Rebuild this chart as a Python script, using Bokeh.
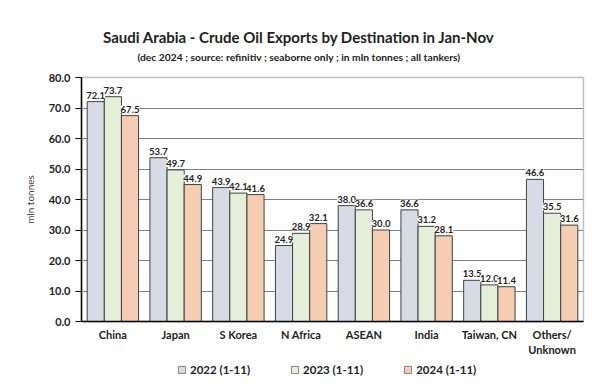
from bokeh.plotting import figure
from bokeh.models import (ColumnDataSource, FactorRange, Legend, LegendItem, Label,
                          LabelSet, FixedTicker, NumeralTickFormatter)
from bokeh.core.properties import value
from bokeh.transform import dodge
from bokeh.layouts import column
from bokeh.embed import file_html
from bokeh.resources import INLINE

categories = ["China", "Japan", "S Korea", "N Africa", "ASEAN", "India", "Taiwan, CN", "Others/\nUnknown"]
series_names = ["2022 (1-11)", "2023 (1-11)", "2024 (1-11)"]
v2022 = [72.1, 53.7, 43.9, 24.9, 38.0, 36.6, 13.5, 46.6]
v2023 = [73.7, 49.7, 42.1, 28.9, 36.6, 31.2, 12.0, 35.5]
v2024 = [67.5, 44.9, 41.6, 32.1, 30.0, 28.1, 11.4, 31.6]
y_ticks = [0, 10, 20, 30, 40, 50, 60, 70, 80]
title_text = "Saudi Arabia - Crude Oil Exports by Destination in Jan-Nov"
subtitle_text = "(dec 2024 ; source: refinitiv ; seaborne only ; in mln tonnes ; all tankers)"

colors = ["#d6dbe6", "#e4efda", "#f4cdb2"]
FONT = "Lato"
W = 593

# ---- title strip ----
ft = figure(width=W, height=64, x_range=(0, W), y_range=(0, 64), min_border=0,
            x_axis_location=None, y_axis_location=None, toolbar_location=None,
            output_backend="svg", outline_line_color=None)
ft.grid.visible = False
ft.add_layout(Label(x=257, y=28, text=title_text, text_align="center", text_baseline="middle",
                    text_font=FONT, text_font_style="bold", text_font_size="15px",
                    text_color="#222222"))
ft.add_layout(Label(x=257, y=8, text=subtitle_text, text_align="center", text_baseline="middle",
                    text_font=FONT, text_font_style="bold", text_font_size="10.3px",
                    text_color="#222222"))

# ---- main chart ----
data = dict(cat=categories, v2022=v2022, v2023=v2023, v2024=v2024,
            l2022=[f"{v:.1f}" for v in v2022],
            l2023=[f"{v:.1f}" for v in v2023],
            l2024=[f"{v:.1f}" for v in v2024])
src = ColumnDataSource(data)

p = figure(x_range=FactorRange(*categories, range_padding=0), y_range=(0, 80),
           frame_width=502, frame_height=244, output_backend="svg", toolbar_location=None,
           min_border_left=81, min_border_right=10, min_border_top=13, min_border_bottom=34)

bw = 0.273
keys = ["v2022", "v2023", "v2024"]
offs = [-bw, 0.0, bw]
for k, off, c in zip(keys, offs, colors):
    p.vbar(x=dodge("cat", off, range=p.x_range), top=k, width=bw, source=src,
           fill_color=c, line_color="#404040", line_width=1)

for k, off in zip(["l2022", "l2023", "l2024"], offs):
    ls = LabelSet(x=dodge("cat", off, range=p.x_range), y=k.replace("l", "v"), text=k,
                  source=src, text_align="center", text_baseline="bottom", y_offset=3,
                  text_font=value(FONT), text_font_style="bold", text_font_size="9.5px",
                  text_color="#222222", background_fill_color="white")
    p.add_layout(ls)

p.yaxis.ticker = FixedTicker(ticks=y_ticks)
p.yaxis.formatter = NumeralTickFormatter(format="0.0")
p.yaxis.axis_line_color = "black"
p.yaxis.axis_line_width = 1.5
p.yaxis.major_tick_out = 6
p.yaxis.major_tick_in = 0
p.yaxis.minor_tick_line_color = None
p.yaxis.major_label_text_font = FONT
p.yaxis.major_label_text_font_style = "bold"
p.yaxis.major_label_text_font_size = "11px"
p.yaxis.major_label_text_color = "#222222"
p.yaxis.axis_label = "mln tonnes"
p.yaxis.axis_label_text_font = FONT
p.yaxis.axis_label_text_font_style = "normal"
p.yaxis.axis_label_text_font_size = "10px"
p.yaxis.axis_label_standoff = 10

p.xaxis.axis_line_color = "black"
p.xaxis.axis_line_width = 1.5
p.xaxis.major_tick_line_color = None
p.xaxis.minor_tick_line_color = None
p.xaxis.major_label_text_font = FONT
p.xaxis.major_label_text_font_style = "bold"
p.xaxis.major_label_text_font_size = "11px"
p.xaxis.major_label_text_color = "#222222"
p.xaxis.major_label_standoff = 0

p.xgrid.grid_line_color = None
p.ygrid.grid_line_color = "#808080"
p.ygrid.grid_line_width = 1
p.outline_line_color = "#c0c0c0"
p.outline_line_width = 1.5

# ---- legend strip (same series, drawn out of view; only the legend shows) ----
fl = figure(width=W, height=22, x_range=FactorRange(*categories), y_range=(1000, 1001),
            min_border=0, x_axis_location=None, y_axis_location=None, toolbar_location=None,
            output_backend="svg", outline_line_color=None)
fl.grid.visible = False
items = []
for n, k, c in zip(series_names, keys, colors):
    r = fl.vbar(x="cat", top=k, width=0.2, source=src, fill_color=c,
                line_color="#7f7f7f", line_width=1)
    items.append(LegendItem(label=n, renderers=[r]))
legend = Legend(items=items, orientation="horizontal", location=(96, 5),
                label_text_font=FONT, label_text_font_style="bold", label_text_font_size="11.5px",
                label_text_color="#222222", glyph_width=9, glyph_height=9, label_standoff=4,
                label_height=14, spacing=40, border_line_color=None, background_fill_alpha=0,
                padding=0, margin=0)
fl.add_layout(legend, "center")

layout = column(ft, p, fl, spacing=0)
open("out.html", "w").write(file_html(layout, INLINE))
